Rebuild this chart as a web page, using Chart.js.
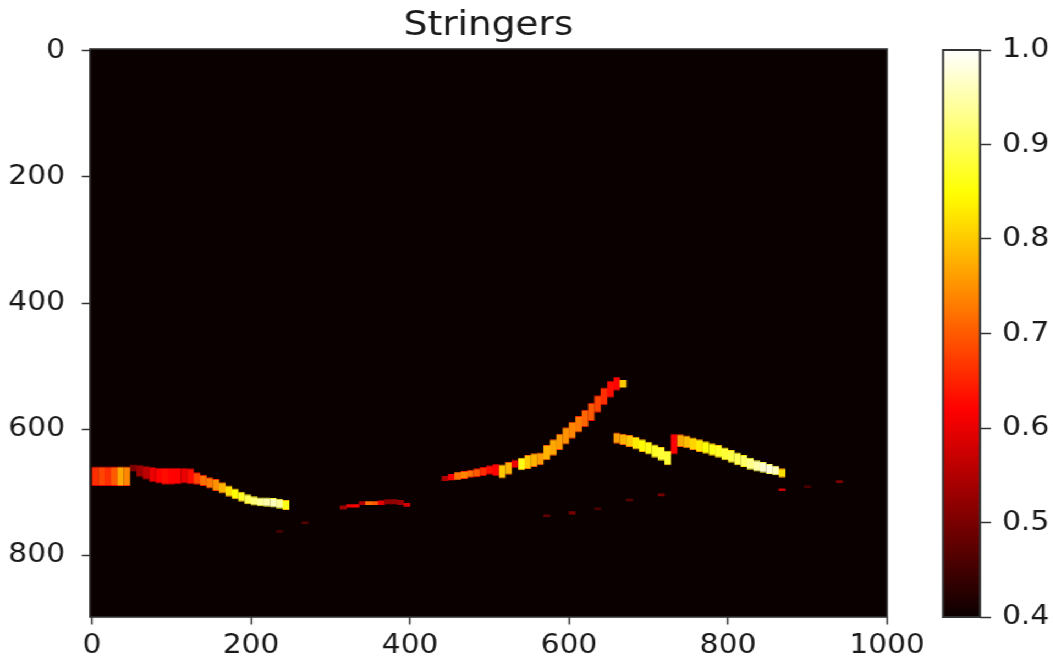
<!DOCTYPE html>
<html><head><meta charset="utf-8">
<script src="https://cdn.jsdelivr.net/npm/chart.js@4.4.1/dist/chart.umd.min.js"></script>
<style>
html,body{margin:0;padding:0;background:#fff;overflow:hidden;}
#fig{position:absolute;left:0;top:0;width:957px;height:663px;transform:scaleX(1.1);transform-origin:0 0;}
#main{position:absolute;left:0;top:0;}
#cbar{position:absolute;left:850px;top:0;}
</style></head><body>
<div id="fig"><canvas id="main" width="850" height="663"></canvas><canvas id="cbar" width="107" height="663"></canvas></div>
<script>
const title = 'Stringers';
const xTicks = [0, 200, 400, 600, 800, 1000];
const yTicks = [0, 200, 400, 600, 800];
const cbarTicks = [0.4, 0.5, 0.6, 0.7, 0.8, 0.9, 1.0];
const vmin = 0.4, vmax = 1.0;

// rows: [x, top, bottom, value]
const stripeA = [[4,659,690,0.66],[12,659,690,0.68],[20,659,690,0.66],[28,659,690,0.7],[36,659,690,0.77],[44,659,690,0.74]];
const stripeB = [[52,655,668,0.5],[60,656,676,0.53],[68,658,680,0.56],[76,660,684,0.6],[84,661,686,0.62],[92,661,688,0.63],[100,661,688,0.62],[108,661,687,0.62],[116,661,686,0.6],[124,662,687,0.63]];
const stripeH = [[132,668,688,0.68],[140,672,690,0.72],[148,676,694,0.73],[156,679,698,0.75],[164,684,702,0.78],[172,689,707,0.82],[180,694,711,0.85],[188,699,715,0.87],[196,703,719,0.9],[204,706,721,0.92],[212,708,722,0.94],[220,708,723,0.95],[228,709,724,0.96],[236,710,726,0.94],[244,712,728,0.86]];
const stripeT = [[316,721,727,0.53],[324,719,724,0.6],[332,719,724,0.62],[340,714,720,0.55],[348,714,720,0.72],[356,714,720,0.7],[364,713,720,0.6],[372,711,719,0.52],[380,711,719,0.52],[388,712,720,0.53],[396,717,723,0.58]];
const stripeC = [[444,674,682,0.55],[452,671,681,0.62],[460,668,680,0.72],[468,666,679,0.74],[476,664,677,0.72],[484,662,676,0.7],[492,660,674,0.66],[500,657,672,0.63],[508,655,674,0.62],[516,656,678,0.8],[524,652,672,0.78],[532,648,662,0.6]];
const stripeD = [[540,645,665,0.86],[548,641,663,0.8],[556,638,660,0.78],[564,637,657,0.76]];
const stripeE = [[572,625,649,0.78],[580,616,642,0.77],[588,607,633,0.76],[596,597,624,0.75],[604,588,615,0.74],[612,579,605,0.73],[620,569,597,0.71],[628,558,587,0.7],[636,546,574,0.68],[644,534,562,0.66],[652,523,550,0.63],[660,517,539,0.62],[668,522,534,0.8]];
const stripeF = [[660,605,623,0.76],[668,607,625,0.78],[676,609,628,0.8],[684,612,632,0.83],[692,616,636,0.85],[700,620,640,0.86],[708,624,645,0.87],[716,628,650,0.88],[724,634,657,0.88]];
const stripeG = [[732,607,640,0.62],[740,608,628,0.77],[748,610,630,0.79],[756,613,633,0.81],[764,616,636,0.83],[772,619,639,0.85],[780,622,642,0.86],[788,625,645,0.87],[796,629,649,0.88],[804,633,653,0.89],[812,637,657,0.9],[820,641,660,0.91],[828,645,664,0.93],[836,649,667,0.95],[844,652,669,0.97],[852,655,671,0.98],[860,658,673,0.96],[868,662,677,0.82]];
const specks = [[236,760,764,0.46],[268,746,750,0.47],[572,735,739,0.48],[604,730,735,0.5],[636,724,728,0.46],[676,710,714,0.47],[716,702,706,0.5],[868,694,698,0.58],[900,689,693,0.46],[940,681,685,0.5]];

const X0 = -2.5, X1 = 1000, Y0 = -2.5, Y1 = 897.5;
const FONT = 'DejaVu Sans';
const TXT = '#1a1a1a';

function hot(v) {
  let t = (v - vmin) / (vmax - vmin);
  t = Math.max(0, Math.min(1, t));
  const a = 0.365079, b = 0.746032;
  const r = t < a ? 0.0416 + (1 - 0.0416) * t / a : 1;
  const g = t < a ? 0 : (t < b ? (t - a) / (b - a) : 1);
  const bl = t < b ? 0 : (t - b) / (1 - b);
  return `rgb(${Math.round(r*255)},${Math.round(g*255)},${Math.round(bl*255)})`;
}

function makeSet(rows, edges) {
  return {
    data: rows.map(r => ({x: r[0], y: [r[1], r[2]], v: r[3]})),
    backgroundColor: c => c.raw ? hot(c.raw.v) : '#000',
    borderColor: c => c.raw ? hot(c.raw.v - 0.08) : '#000',
    borderWidth: c => (edges && c.raw && (c.raw.y[1] - c.raw.y[0]) > 12) ? {top: 1, bottom: 1, left: 0, right: 0} : 0,
    borderSkipped: false,
    grouped: false,
    barPercentage: 1.08,
    categoryPercentage: 1
  };
}

const datasets = [
  makeSet(specks, false),
  makeSet(stripeA, true), makeSet(stripeB, true), makeSet(stripeH, true),
  makeSet(stripeT, false), makeSet(stripeC, true), makeSet(stripeD, true),
  makeSet(stripeE, true), makeSet(stripeF, true), makeSet(stripeG, true)
];

const frame = {
  id: 'frame',
  beforeDatasetsDraw(chart) {
    const a = chart.chartArea, ctx = chart.ctx;
    ctx.save(); ctx.fillStyle = hot(vmin);
    ctx.fillRect(a.left, a.top, a.right - a.left, a.bottom - a.top); ctx.restore();
  },
  afterDatasetsDraw(chart) {
    const a = chart.chartArea, ctx = chart.ctx;
    ctx.save(); ctx.strokeStyle = '#333'; ctx.lineWidth = 1.6;
    ctx.strokeRect(a.left, a.top, a.right - a.left, a.bottom - a.top); ctx.restore();
  }
};

const tickGrid = {display: true, drawOnChartArea: false, drawTicks: true, tickLength: 7.5, tickColor: '#333', tickWidth: 1.5, offset: false};

new Chart(document.getElementById('main'), {
  type: 'bar',
  data: {datasets},
  options: {
    responsive: false, animation: false, devicePixelRatio: 1,
    layout: {padding: {left: 0, right: 43.6, top: 0, bottom: 0}},
    plugins: {
      legend: {display: false}, tooltip: {enabled: false},
      title: {display: true, text: title, fullSize: false, color: TXT,
        font: {family: FONT, size: 34, weight: 'normal'}, padding: {top: 6, bottom: 2.2}}
    },
    scales: {
      x: {type: 'linear', min: X0, max: X1, offset: false,
        afterBuildTicks: s => { s.ticks = xTicks.map(v => ({value: v})); },
        afterFit: s => { s.height = 46; },
        grid: tickGrid, border: {display: false},
        ticks: {font: {family: FONT, size: 27}, color: TXT, padding: 5, maxRotation: 0, autoSkip: false, callback: v => String(v)}},
      y: {type: 'linear', reverse: true, min: Y0, max: Y1,
        afterBuildTicks: s => { s.ticks = yTicks.map(v => ({value: v})); },
        afterFit: s => { s.width = 81.8; },
        grid: tickGrid, border: {display: false},
        ticks: {font: {family: FONT, size: 27}, color: TXT, padding: 15.2, autoSkip: false, callback: v => String(v)}}
    }
  },
  plugins: [frame]
});

function cbarGradient(chart) {
  const a = chart.chartArea;
  if (!a) return hot(vmin);
  const g = chart.ctx.createLinearGradient(0, a.bottom, 0, a.top);
  const n = 60;
  for (let i = 0; i <= n; i++) g.addColorStop(i / n, hot(vmin + (vmax - vmin) * i / n));
  return g;
}

const cbFrame = {
  id: 'cbFrame',
  afterDatasetsDraw(chart) {
    const a = chart.chartArea, ctx = chart.ctx;
    ctx.save(); ctx.strokeStyle = '#333'; ctx.lineWidth = 2;
    ctx.strokeRect(a.left, a.top, a.right - a.left, a.bottom - a.top); ctx.restore();
  }
};

new Chart(document.getElementById('cbar'), {
  type: 'bar',
  data: {labels: [''], datasets: [{data: [[vmin, vmax]], backgroundColor: c => cbarGradient(c.chart), borderWidth: 0, barPercentage: 1, categoryPercentage: 1}]},
  options: {
    responsive: false, animation: false, devicePixelRatio: 1,
    layout: {padding: {left: 7.3, top: 50, bottom: 46, right: 0}},
    plugins: {legend: {display: false}, tooltip: {enabled: false}},
    scales: {
      x: {display: false},
      y: {position: 'right', min: vmin, max: vmax,
        afterBuildTicks: s => { s.ticks = cbarTicks.map(v => ({value: v})); },
        afterFit: s => { s.width = 66.1; },
        grid: {display: true, drawOnChartArea: false, drawTicks: true, tickLength: 10, tickColor: '#333', tickWidth: 1.5},
        border: {display: false},
        ticks: {font: {family: FONT, size: 27}, color: TXT, padding: 10, autoSkip: false, callback: v => v.toFixed(1)}}
    }
  },
  plugins: [cbFrame]
});
</script>
</body></html>
